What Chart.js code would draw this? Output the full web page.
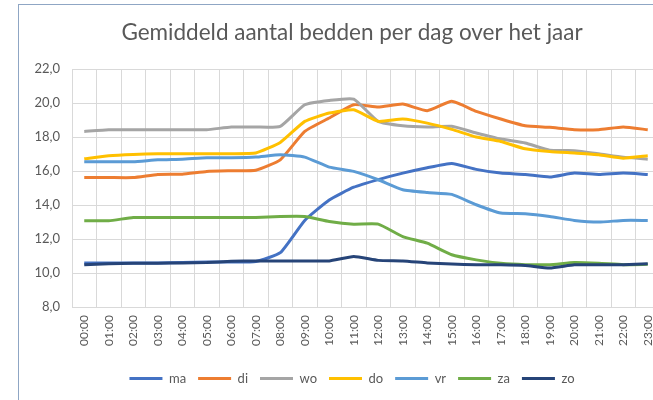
<!DOCTYPE html>
<html>
<head>
<meta charset="utf-8">
<script src="https://cdn.jsdelivr.net/npm/chart.js@4"></script>
<style>
  html, body { margin: 0; padding: 0; background: #fff; overflow: hidden; }
  #frame {
    position: absolute; left: 18px; top: 4px;
    width: 666px; height: 430px;
    border: 1px solid #8fa6c4;
    background: #fff;
  }
  #chart { display: block; }
</style>
</head>
<body>
<div id="frame">
  <canvas id="chart" width="666" height="396"></canvas>
</div>
<script>
const hours = ['00:00', '01:00', '02:00', '03:00', '04:00', '05:00', '06:00', '07:00',
  '08:00', '09:00', '10:00', '11:00', '12:00', '13:00', '14:00', '15:00',
  '16:00', '17:00', '18:00', '19:00', '20:00', '21:00', '22:00', '23:00'];

const ma = [10.6, 10.6, 10.6, 10.6, 10.62, 10.65, 10.65, 10.68, 11.2, 13.1, 14.3, 15.05,
  15.5, 15.88, 16.2, 16.45, 16.1, 15.88, 15.8, 15.65, 15.88, 15.8, 15.88, 15.8];
const di = [15.62, 15.62, 15.62, 15.8, 15.82, 15.98, 16.02, 16.05, 16.66, 18.33, 19.12, 19.9,
  19.76, 19.94, 19.55, 20.1, 19.51, 19.06, 18.66, 18.57, 18.43, 18.43, 18.59, 18.43];
const wo = [18.33, 18.43, 18.43, 18.43, 18.43, 18.43, 18.59, 18.59, 18.63, 19.9, 20.15, 20.23,
  18.92, 18.66, 18.59, 18.63, 18.24, 17.88, 17.65, 17.22, 17.2, 17.02, 16.82, 16.7];
const dO = [16.72, 16.9, 16.98, 17.02, 17.02, 17.02, 17.02, 17.06, 17.68, 18.92, 19.41, 19.6,
  18.92, 19.06, 18.82, 18.45, 18.0, 17.74, 17.31, 17.15, 17.06, 16.96, 16.76, 16.9];
const vr = [16.55, 16.55, 16.55, 16.66, 16.7, 16.78, 16.78, 16.82, 16.96, 16.82, 16.23, 15.98,
  15.49, 14.9, 14.74, 14.63, 14.02, 13.53, 13.49, 13.33, 13.1, 13.0, 13.1, 13.1];
const za = [13.08, 13.08, 13.27, 13.27, 13.27, 13.27, 13.27, 13.27, 13.33, 13.33, 13.04, 12.88,
  12.88, 12.15, 11.76, 11.08, 10.78, 10.58, 10.5, 10.5, 10.62, 10.58, 10.5, 10.52];
const zo = [10.5, 10.55, 10.58, 10.58, 10.6, 10.62, 10.7, 10.72, 10.72, 10.72, 10.72, 10.98,
  10.75, 10.72, 10.6, 10.53, 10.49, 10.49, 10.45, 10.3, 10.49, 10.49, 10.49, 10.55];

const seriesNames = ['ma', 'di', 'wo', 'do', 'vr', 'za', 'zo'];
const seriesData = [ma, di, wo, dO, vr, za, zo];
const seriesColors = ['#4472c4', '#ed7d31', '#a5a5a5', '#ffc000', '#5b9bd5', '#70ad47', '#264478'];

const yMin = 8, yMax = 22, yStep = 2;
const titleText = 'Gemiddeld aantal bedden per dag over het jaar';

const textColor = '#595959';
const gridColor = '#d9d9d9';
const fontFamily = 'Lato, "Open Sans", sans-serif';

const datasets = seriesNames.map((name, i) => ({
  label: name,
  data: seriesData[i],
  borderColor: seriesColors[i],
  backgroundColor: seriesColors[i],
  borderWidth: 3,
  pointRadius: 0,
  tension: 0.15,
  // later series on top, like the original
  order: seriesNames.length - i
}));

new Chart(document.getElementById('chart'), {
  type: 'line',
  data: { labels: hours, datasets: datasets },
  options: {
    responsive: false,
    animation: false,
    // equal side padding keeps title and legend centred on the frame
    layout: { padding: { left: 25, right: 25, top: 0, bottom: 6 } },
    plugins: {
      title: {
        display: true,
        text: titleText,
        color: textColor,
        font: { family: fontFamily, size: 22.5, weight: 'normal' },
        padding: { top: 14, bottom: 23 }
      },
      legend: {
        position: 'bottom',
        labels: {
          color: textColor,
          font: { family: fontFamily, size: 13 },
          usePointStyle: true,
          pointStyle: 'line',
          pointStyleWidth: 33,
          boxHeight: 13,
          padding: 12,
          sort: (a, b) => a.datasetIndex - b.datasetIndex
        }
      },
      tooltip: { enabled: false }
    },
    scales: {
      x: {
        offset: true,
        grid: { offset: true, color: gridColor, drawTicks: false },
        border: { color: gridColor },
        ticks: {
          color: textColor,
          font: { family: fontFamily, size: 12 },
          minRotation: 90,
          maxRotation: 90,
          padding: 8,
          autoSkip: false
        },
        afterFit: scale => { scale.height += 6; }
      },
      y: {
        min: yMin,
        max: yMax,
        grid: { color: gridColor, drawTicks: false },
        border: { display: false },
        ticks: {
          stepSize: yStep,
          color: textColor,
          font: { family: fontFamily, size: 13 },
          padding: 12,
          callback: v => v.toFixed(1).replace('.', ',')
        },
        afterFit: scale => {
          scale.width = 28;
          // labels reach into the left padding, so don't clip them to the axis box
          scale._computeLabelArea = () => undefined;
        }
      }
    }
  }
});
</script>
</body>
</html>
